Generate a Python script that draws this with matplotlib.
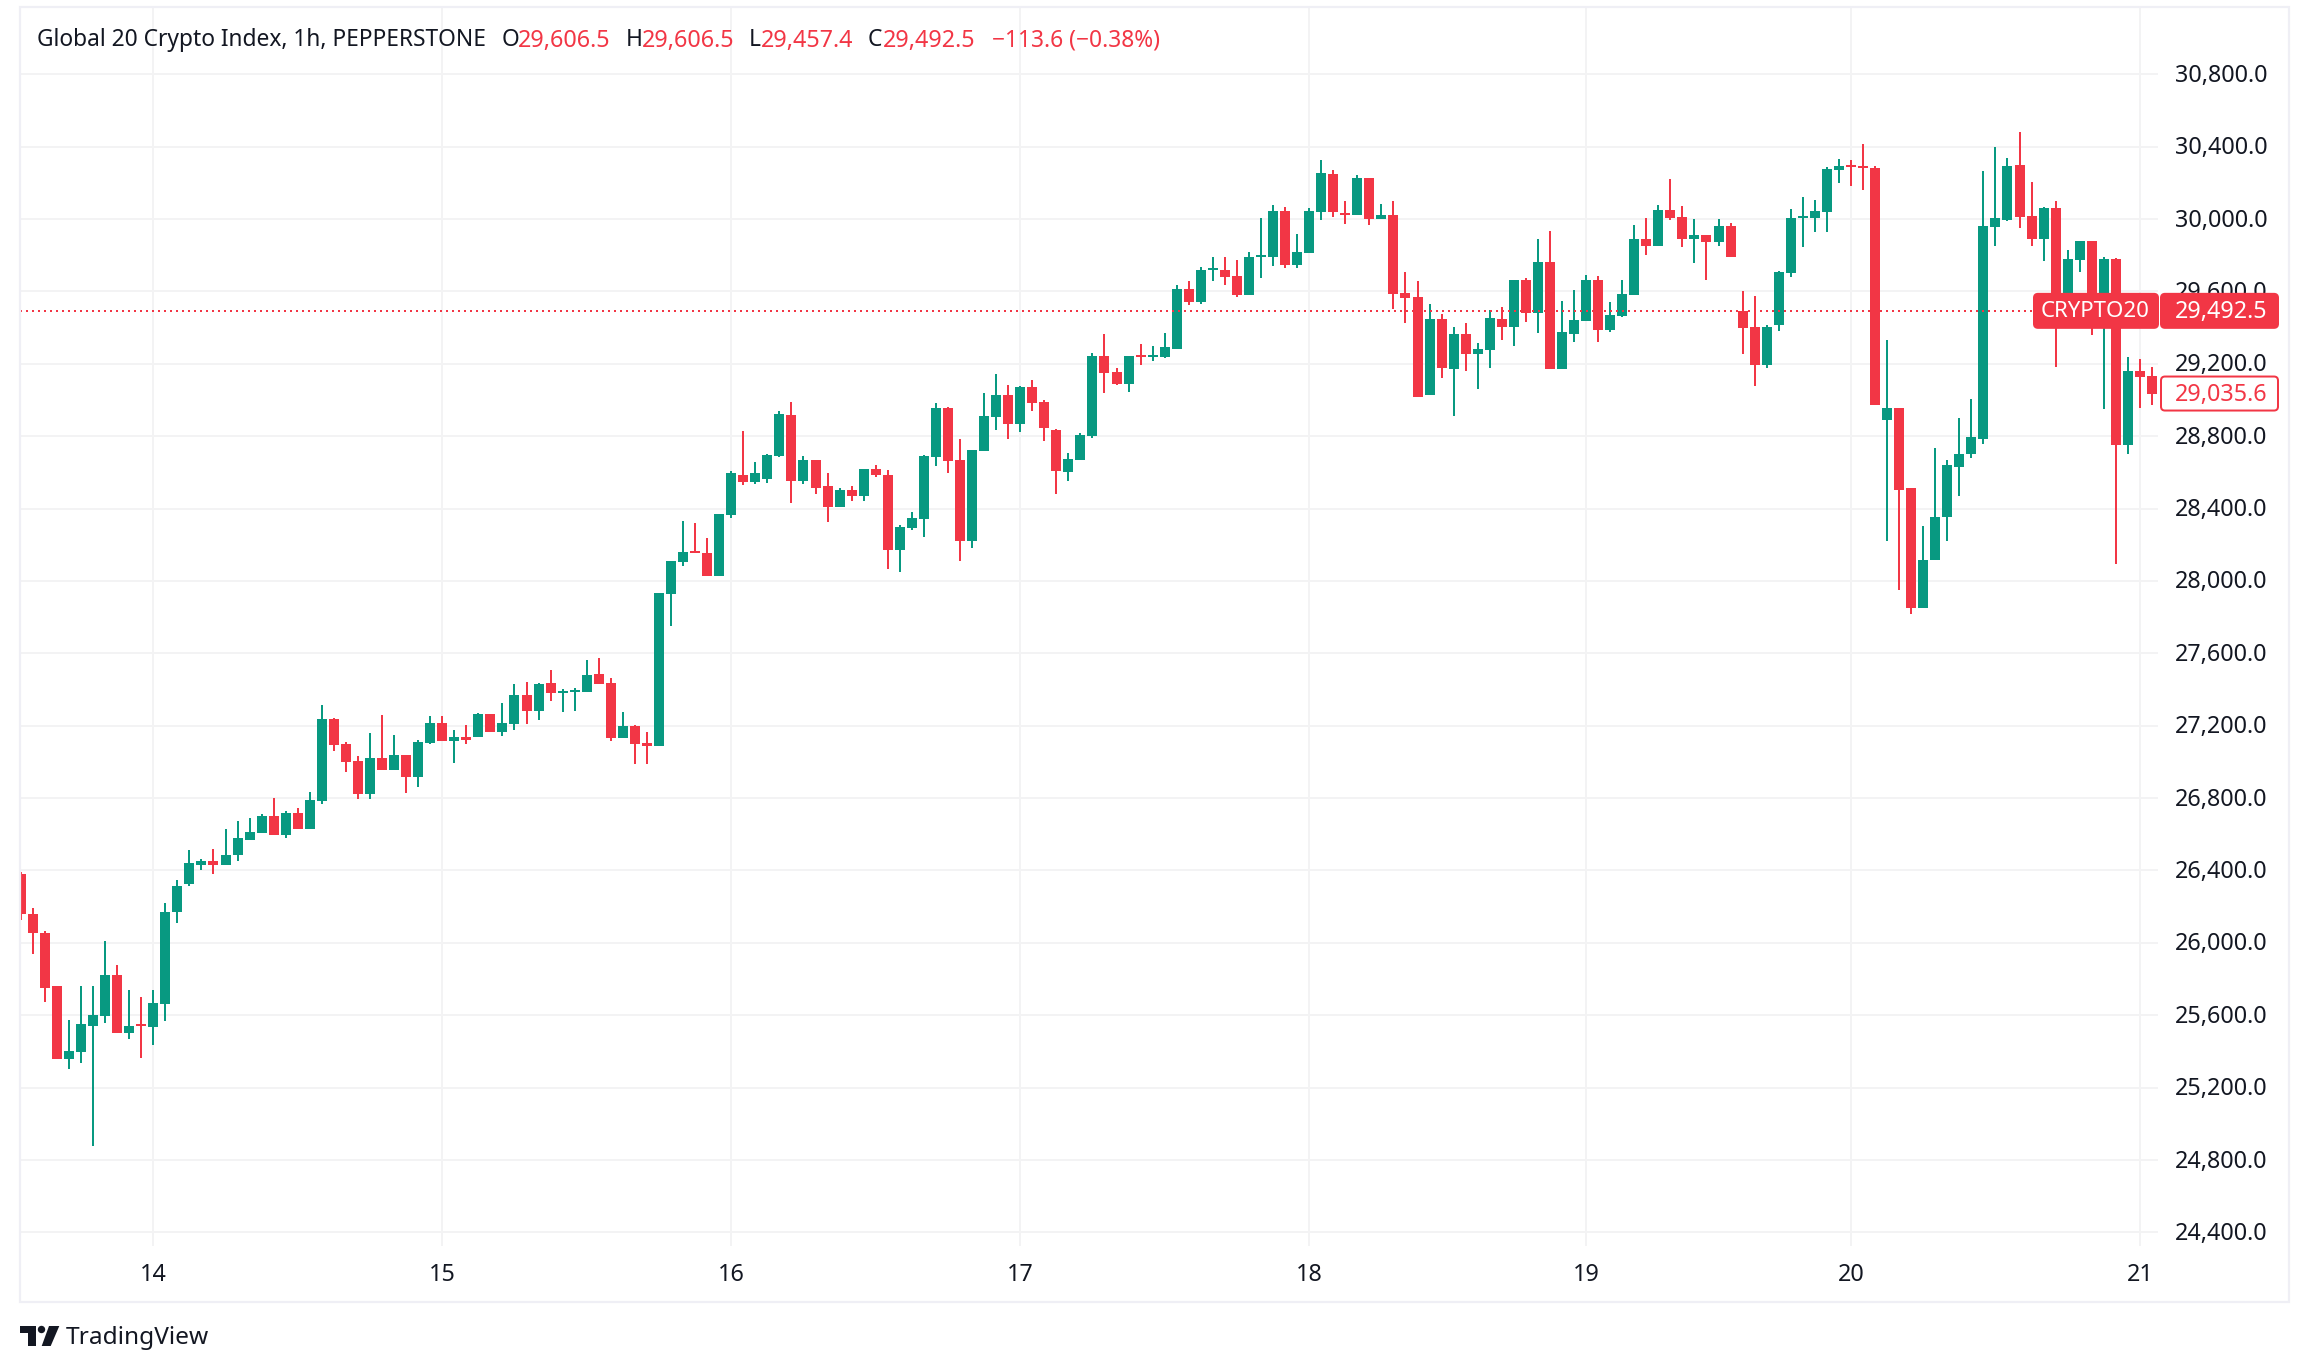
import matplotlib
matplotlib.use("Agg")
import matplotlib.pyplot as plt
import numpy as np
from matplotlib.patches import Rectangle, FancyBboxPatch, Polygon, Circle
from matplotlib.transforms import IdentityTransform, ScaledTranslation

W, H = 2308, 1372
GREEN = "#089981"
RED = "#F23645"
DARK = "#131722"
GRID = "#F3F3F4"
FRAME = "#EFEFF5"

plt.rcParams["font.family"] = ["Noto Sans", "DejaVu Sans"]

# hourly candles
opens = [
    26383, 26162, 26057, 25759, 25361, 25399, 25543, 25598, 25825, 25504,
    25554, 25537, 25665, 26168, 26323, 26433, 26455, 26428, 26483, 26571,
    26605, 26699, 26594, 26715, 26627, 26782, 27235, 27097, 27003, 26820,
    27019, 26958, 27036, 26914, 27102, 27213, 27113, 27135, 27135, 27263,
    27167, 27211, 27370, 27282, 27436, 27381, 27387, 27387, 27485, 27436,
    27134, 27200, 27107, 27090, 27929, 28106, 28167, 28156, 28029, 28367,
    28588, 28544, 28566, 28688, 28916, 28550, 28666, 28522, 28411, 28505,
    28467, 28616, 28588, 28173, 28295, 28345, 28683, 28954, 28666, 28223,
    28716, 28905, 29026, 28866, 29071, 28988, 28832, 28600, 28666, 28799,
    29241, 29152, 29086, 29246, 29235, 29235, 29279, 29611, 29539, 29716,
    29716, 29683, 29578, 29788, 29788, 30042, 29744, 29810, 30037, 30247,
    30031, 30020, 30225, 29998, 30020, 29589, 29567, 29025, 29445, 29169,
    29362, 29252, 29274, 29445, 29401, 29661, 29478, 29760, 29169, 29362,
    29434, 29661, 29384, 29462, 29578, 29888, 29849, 30048, 30009, 29888,
    29910, 29871, 29959, 29489, 29401, 29191, 29417, 29700, 30004, 30004,
    30037, 30271, 30297, 30291, 30280, 28892, 28953, 28511, 27853, 28118,
    28356, 28632, 28699, 28787, 29954, 29993, 30297, 30015, 29888, 30059,
    29513, 29771, 29876, 29458, 29777, 28749, 29158, 29130,
]
highs = [
    26389, 26190, 26063, 25759, 25576, 25764, 25759, 26013, 25880, 25737,
    25703, 25742, 26223, 26345, 26511, 26466, 26516, 26627, 26671, 26688,
    26710, 26798, 26726, 26748, 26831, 27312, 27240, 27108, 27030, 27157,
    27257, 27146, 27036, 27119, 27251, 27251, 27174, 27202, 27268, 27263,
    27326, 27431, 27442, 27436, 27507, 27403, 27409, 27562, 27573, 27463,
    27277, 27205, 27167, 27934, 28112, 28333, 28322, 28239, 28372, 28605,
    28827, 28655, 28699, 28938, 28988, 28688, 28666, 28594, 28511, 28522,
    28616, 28638, 28611, 28311, 28383, 28694, 28982, 28960, 28783, 28722,
    29038, 29143, 29082, 29076, 29110, 28999, 28838, 28705, 28816, 29259,
    29362, 29174, 29241, 29307, 29296, 29368, 29633, 29655, 29733, 29788,
    29788, 29771, 29816, 30004, 30075, 30064, 29915, 30059, 30324, 30269,
    30098, 30241, 30225, 30081, 30098, 29705, 29655, 29528, 29473, 29401,
    29423, 29313, 29495, 29512, 29661, 29672, 29888, 29932, 29545, 29606,
    29688, 29683, 29539, 29661, 29965, 30004, 30075, 30219, 30070, 29998,
    29910, 29998, 29976, 29600, 29572, 29415, 29711, 30053, 30120, 30103,
    30287, 30330, 30324, 30413, 30291, 29329, 28953, 28511, 28306, 28732,
    28666, 28903, 29003, 30263, 30396, 30335, 30479, 30203, 30064, 30098,
    29827, 29876, 29876, 29788, 29782, 29235, 29224, 29180,
]
lows = [
    26124, 25941, 25676, 25361, 25305, 25338, 24880, 25560, 25504, 25471,
    25366, 25438, 25571, 26112, 26317, 26400, 26378, 26428, 26455, 26566,
    26605, 26594, 26582, 26627, 26627, 26765, 27058, 26947, 26793, 26793,
    26953, 26953, 26826, 26864, 27097, 27113, 26992, 27097, 27135, 27163,
    27145, 27178, 27211, 27233, 27337, 27277, 27282, 27387, 27431, 27118,
    27134, 26991, 26991, 27090, 27751, 28084, 28156, 28029, 28029, 28350,
    28528, 28533, 28539, 28683, 28428, 28533, 28483, 28328, 28411, 28439,
    28444, 28572, 28067, 28051, 28284, 28245, 28633, 28594, 28112, 28184,
    28716, 28832, 28783, 28821, 28938, 28771, 28478, 28555, 28666, 28788,
    29036, 29080, 29042, 29196, 29213, 29230, 29279, 29523, 29528, 29655,
    29633, 29567, 29578, 29672, 29738, 29727, 29727, 29810, 29993, 30009,
    29970, 30020, 29965, 29998, 29500, 29423, 29019, 29025, 29119, 28909,
    29158, 29058, 29174, 29329, 29296, 29429, 29368, 29169, 29169, 29323,
    29434, 29318, 29373, 29456, 29578, 29799, 29849, 29993, 29844, 29755,
    29661, 29849, 29788, 29252, 29075, 29174, 29379, 29677, 29844, 29926,
    29926, 30199, 30181, 30158, 28975, 28218, 27952, 27820, 27853, 28113,
    28223, 28472, 28682, 28754, 29849, 29987, 29948, 29849, 29766, 29180,
    29495, 29705, 29357, 28948, 28096, 28704, 28953, 28970,
]
closes = [
    26159, 26052, 25753, 25361, 25405, 25549, 25604, 25825, 25504, 25543,
    25543, 25670, 26173, 26312, 26439, 26450, 26428, 26488, 26577, 26610,
    26699, 26594, 26715, 26627, 26787, 27235, 27091, 26997, 26820, 27019,
    26958, 27036, 26914, 27108, 27213, 27113, 27135, 27119, 27263, 27163,
    27216, 27370, 27282, 27431, 27381, 27392, 27398, 27480, 27431, 27134,
    27200, 27101, 27090, 27934, 28112, 28162, 28156, 28029, 28372, 28594,
    28544, 28594, 28694, 28921, 28550, 28666, 28516, 28411, 28505, 28467,
    28616, 28583, 28173, 28300, 28350, 28688, 28954, 28661, 28223, 28722,
    28910, 29026, 28866, 29071, 28982, 28844, 28605, 28672, 28805, 29243,
    29147, 29086, 29241, 29235, 29246, 29290, 29611, 29539, 29716, 29727,
    29677, 29578, 29788, 29799, 30042, 29744, 29816, 30042, 30252, 30037,
    30020, 30225, 29998, 30020, 29583, 29561, 29019, 29445, 29174, 29362,
    29252, 29279, 29451, 29406, 29661, 29478, 29760, 29169, 29373, 29440,
    29661, 29384, 29467, 29583, 29888, 29849, 30048, 30004, 29888, 29910,
    29871, 29959, 29788, 29395, 29191, 29404, 29705, 30004, 30015, 30042,
    30276, 30293, 30286, 30280, 28975, 28953, 28500, 27853, 28118, 28356,
    28638, 28704, 28793, 29959, 30004, 30291, 30009, 29888, 30059, 29495,
    29777, 29876, 29458, 29777, 28749, 29158, 29125, 29035.6,
]

day_positions = [11, 35, 59, 83, 107, 130, 152, 176]
day_labels = ["14", "15", "16", "17", "18", "19", "20", "21"]
price_ticks = list(range(24400, 31200, 400))
index_close = 29492.5
symbol_tag = "CRYPTO20"

o = np.array(opens)
h = np.array(highs)
l = np.array(lows)
c = np.array(closes)
x = np.arange(len(o))
colors = [GREEN if ci >= oi else RED for oi, ci in zip(o, c)]


def fx(px):
    return px / W


def fy(py):
    return 1 - py / H


fig = plt.figure(figsize=(W / 100, H / 100), dpi=100, facecolor="white")

# plot area in image pixels: x 20..2158, y 8..1246
ax = fig.add_axes([fx(20), fy(1246), fx(2158 - 20), (1246 - 8) / H])
ax.set_xlim(-0.07, 177.5)
ax.set_ylim(24325, 31166)
for s in ax.spines.values():
    s.set_visible(False)

ax.vlines(x, l, h, colors=colors, linewidth=1.44, zorder=3, capstyle="butt")
ax.bar(x, np.abs(c - o), bottom=np.minimum(o, c), width=0.83, color=colors,
       linewidth=0, zorder=3)

ax.axhline(index_close, color=RED, linewidth=1.44, dashes=(1, 2), zorder=4)

ax.set_axisbelow(True)
ax.grid(True, color=GRID, linewidth=1.44)
ax.yaxis.tick_right()
ax.set_yticks(price_ticks)
ax.set_yticklabels([f"{v:,.1f}" for v in price_ticks], va="center_baseline")
ax.set_xticks(day_positions)
ax.set_xticklabels(day_labels)
ax.get_xticklabels()[6].set_fontweight("bold")
ax.tick_params(axis="y", length=0, pad=12, labelsize=16.8, labelcolor=DARK)
ax.tick_params(axis="x", length=0, pad=12, labelsize=16.8, labelcolor=DARK)

# nudge the price labels up a little, they sat low against the grid lines
nudge = ScaledTranslation(0, 1.5 / 100, fig.dpi_scale_trans)
for lab in ax.get_yticklabels():
    lab.set_transform(lab.get_transform() + nudge)

# outer border
fig.add_artist(Rectangle((fx(20), fy(1302)), fx(2289 - 20), (1302 - 7) / H,
                         transform=fig.transFigure, fill=False,
                         edgecolor=FRAME, linewidth=1.6, zorder=1))

# legend line at the top
legend_parts = [
    (37, "Global 20 Crypto Index, 1h, PEPPERSTONE", DARK, 16.4),
    (502, "O", DARK, 16.4), (518, "29,606.5", RED, 16.8),
    (626, "H", DARK, 16.4), (642, "29,606.5", RED, 16.8),
    (749, "L", DARK, 16.4), (761, "29,457.4", RED, 16.8),
    (868, "C", DARK, 16.4), (883, "29,492.5", RED, 16.8),
    (992, "\u2212113.6 (\u22120.38%)", RED, 16.4),
]
for px, txt, col, size in legend_parts:
    fig.text(fx(px), fy(37.5), txt, color=col, fontsize=size,
             va="center_baseline", ha="left")

# price tags on the right, placed from the values
fig.canvas.draw()


def tag(x0, x1, value, face, edge, text, text_col, text_x, ha="left", size=16.8):
    yc = ax.transData.transform((0, value))[1]
    fig.add_artist(FancyBboxPatch(
        (x0 + 3, yc - 14), x1 - x0 - 6, 28,
        boxstyle="round,pad=3,rounding_size=4", transform=IdentityTransform(),
        facecolor=face, edgecolor=edge, linewidth=1.44, zorder=6))
    fig.text(fx(text_x), (yc + 1.5) / H, text, color=text_col, fontsize=size,
             va="center_baseline", ha=ha, zorder=7)


tag(2034, 2158, index_close, RED, RED, symbol_tag, "white", 2095, ha="center", size=16)
tag(2161, 2278, index_close, RED, RED, f"{index_close:,.1f}", "white", 2175)
tag(2161, 2278, closes[-1], "white", RED, f"{closes[-1]:,.1f}", RED, 2175)

# TradingView mark and name under the chart
logo_t = [(20, 1326), (36, 1326), (36, 1346), (28, 1346), (28, 1333), (20, 1333)]
logo_slash = [(49, 1326), (59.3, 1326), (50.7, 1346), (41.7, 1346)]
fig.add_artist(Polygon([(fx(a), fy(b)) for a, b in logo_t], closed=True,
                       transform=fig.transFigure, facecolor=DARK, linewidth=0))
fig.add_artist(Polygon([(fx(a), fy(b)) for a, b in logo_slash], closed=True,
                       transform=fig.transFigure, facecolor=DARK, linewidth=0))
fig.add_artist(Circle((41.5, H - 1329.5), 3.7, transform=IdentityTransform(),
                      facecolor=DARK, linewidth=0))
fig.text(fx(66), fy(1338), "TradingView", color=DARK, fontsize=17.6,
         va="center", ha="left")

fig.savefig("out.png", dpi=100, facecolor="white")
